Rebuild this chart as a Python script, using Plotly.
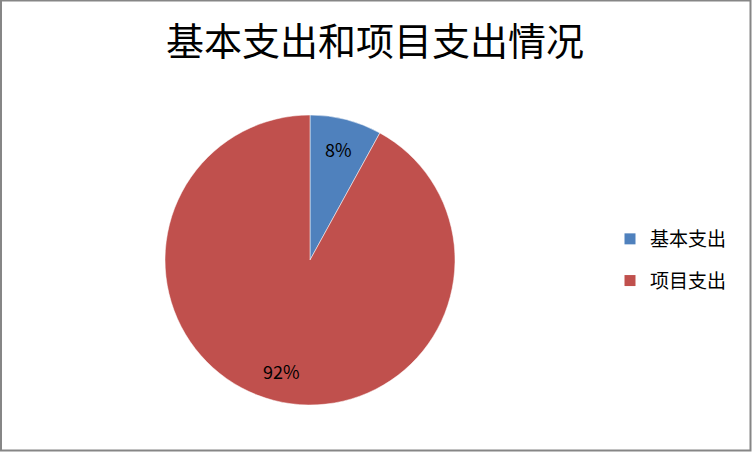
import math

import plotly.graph_objects as go

# data
labels = ["基本支出", "项目支出"]
values = [8, 92]
colors = ["#4F81BD", "#C0504D"]

W, H = 752, 452
font_cjk = "Noto Sans CJK SC, Noto Sans, sans-serif"

# pie geometry (pixels)
cx, cy, rad = 310, 260, 145

fig = go.Figure()
fig.add_trace(
    go.Pie(
        labels=labels,
        values=values,
        sort=False,
        direction="clockwise",
        rotation=0,
        marker=dict(colors=colors, line=dict(color="#FFFFFF", width=0.5)),
        textinfo="none",
        hoverinfo="label+percent",
        showlegend=False,
        domain=dict(x=[(cx - rad) / W, (cx + rad) / W], y=[1 - (cy + rad) / H, 1 - (cy - rad) / H]),
    )
)

# legend entries (square swatches, spaced like the original)
for name, color in zip(labels, colors):
    fig.add_trace(
        go.Scatter(
            x=[None],
            y=[None],
            mode="markers",
            name=name,
            legendgroup=name,
            marker=dict(symbol="square", size=11, color=color),
            hoverinfo="skip",
        )
    )

# percentage labels, placed at the middle angle of each slice
annotations = []
total = sum(values)
start = 0.0
for v in values:
    mid = (start + v / 2) / total * 2 * math.pi
    start += v
    r = rad * 0.79
    annotations.append(
        dict(
            x=cx + r * math.sin(mid),
            y=cy - r * math.cos(mid),
            xref="x",
            yref="y",
            xanchor="center",
            yanchor="middle",
            text=f"{round(v / total * 100)}%",
            showarrow=False,
            font=dict(size=18, family=font_cjk, color="#000000"),
        )
    )

fig.update_layout(
    width=W,
    height=H,
    margin=dict(l=0, r=0, t=0, b=0),
    paper_bgcolor="#FFFFFF",
    plot_bgcolor="rgba(0,0,0,0)",
    font=dict(family=font_cjk, color="#000000"),
    xaxis=dict(visible=False, range=[0, W], domain=[0, 1], fixedrange=True),
    yaxis=dict(visible=False, range=[H, 0], domain=[0, 1], fixedrange=True),
    title=dict(
        text="基本支出和项目支出情况",
        x=375 / W,
        xanchor="center",
        y=1 - 42 / H,
        yanchor="middle",
        font=dict(size=38, family=font_cjk, color="#000000"),
    ),
    legend=dict(
        x=610 / W,
        xanchor="left",
        y=1 - 260 / H,
        yanchor="middle",
        tracegroupgap=14,
        traceorder="grouped",
        font=dict(size=19, family=font_cjk, color="#000000"),
        bgcolor="rgba(0,0,0,0)",
    ),
    annotations=annotations,
    shapes=[
        dict(
            type="rect",
            xref="paper",
            yref="paper",
            x0=1 / W,
            x1=1 - 1.5 / W,
            y0=1.5 / H,
            y1=1 - 0.5 / H,
            line=dict(color="#868686", width=2),
        )
    ],
)

fig.write_html(
    "out.html",
    config={"displayModeBar": False},
    post_script="document.body.style.margin='0px';",
)
